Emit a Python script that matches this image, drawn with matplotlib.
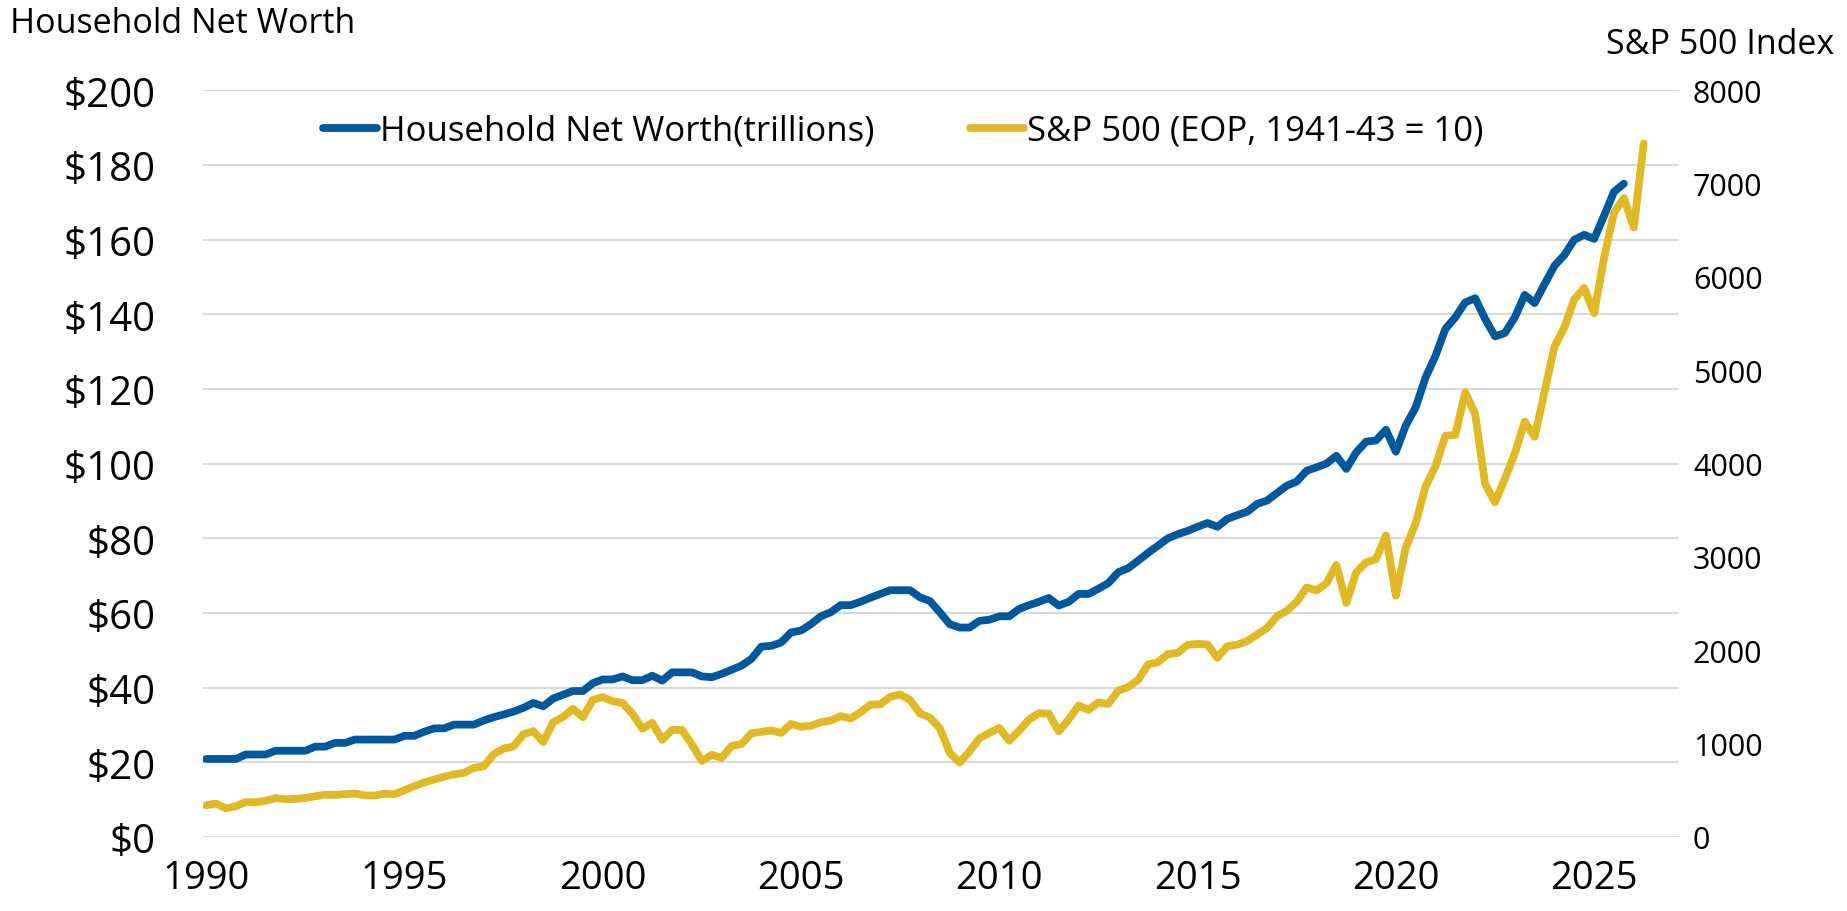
import matplotlib
matplotlib.use("Agg")
import matplotlib.pyplot as plt
import numpy as np

plt.rcParams['font.family'] = ['Open Sans', 'DejaVu Sans']

# quarterly, first point = 1990 Q1
start_year = 1990

# household net worth, trillions of dollars
net_worth = [
    20.9, 20.9, 20.9, 20.9, 22.1, 22.1, 22.1, 23.1, 23.1, 23.1,
    23.1, 24.2, 24.2, 25.2, 25.2, 26.1, 26.1, 26.1, 26.1, 26.1,
    27.1, 27.1, 28.2, 29.1, 29.1, 30.1, 30.1, 30.1, 31.2, 32.1,
    32.8, 33.6, 34.6, 35.9, 35.0, 37.1, 38.1, 39.1, 39.1, 41.2,
    42.2, 42.2, 43.0, 42.0, 42.0, 43.2, 41.9, 44.1, 44.1, 44.1,
    43.0, 42.8, 43.7, 44.8, 45.9, 47.7, 51.0, 51.2, 52.1, 54.8,
    55.3, 57.0, 59.1, 60.2, 62.1, 62.1, 63.0, 64.1, 65.1, 66.1,
    66.1, 66.1, 64.2, 63.2, 60.2, 57.0, 56.1, 56.1, 57.9, 58.2,
    59.1, 59.1, 61.1, 62.1, 63.0, 64.0, 62.0, 63.0, 65.1, 65.1,
    66.5, 68.0, 70.9, 72.0, 74.0, 76.1, 78.0, 80.0, 81.1, 82.0,
    83.1, 84.1, 83.1, 85.2, 86.2, 87.1, 89.2, 90.1, 92.1, 94.1,
    95.2, 98.1, 99.0, 100.0, 102.1, 98.6, 103.0, 105.9, 106.2, 109.1,
    103.2, 110.2, 115.1, 123.1, 128.9, 136.1, 139.2, 143.2, 144.3, 138.8,
    134.1, 135.0, 139.2, 145.2, 143.0, 148.1, 153.0, 155.9, 160.0, 161.3,
    160.2, 166.4, 172.8, 175.0,
]

# S&P 500, end of quarter
sp500 = [
    340, 358, 306, 330, 375, 371, 388, 417, 404, 408,
    418, 436, 452, 451, 459, 466, 446, 444, 463, 459,
    501, 545, 584, 616, 646, 671, 687, 741, 757, 885,
    947, 970, 1102, 1134, 1017, 1229, 1286, 1373, 1283, 1469,
    1499, 1455, 1437, 1320, 1160, 1224, 1041, 1148, 1147, 990,
    815, 880, 848, 975, 996, 1112, 1126, 1141, 1115, 1212,
    1181, 1191, 1229, 1248, 1295, 1270, 1336, 1418, 1421, 1503,
    1527, 1468, 1323, 1280, 1166, 903, 798, 919, 1057, 1115,
    1169, 1031, 1141, 1258, 1326, 1321, 1131, 1258, 1408, 1362,
    1441, 1426, 1569, 1606, 1682, 1848, 1872, 1960, 1972, 2059,
    2068, 2063, 1920, 2044, 2060, 2099, 2168, 2239, 2363, 2423,
    2519, 2674, 2641, 2718, 2914, 2507, 2834, 2942, 2977, 3231,
    2585, 3100, 3363, 3756, 3973, 4298, 4308, 4766, 4530, 3785,
    3586, 3840, 4109, 4450, 4288, 4770, 5254, 5460, 5762, 5882,
    5612, 6205, 6688, 6846, 6530, 7430,
]

blue = '#00589c'
gold = '#e1b926'

x_nw = start_year + 0.25 * np.arange(len(net_worth))
x_sp = start_year + 0.25 * np.arange(len(sp500))

W, H = 1847, 912
fig = plt.figure(figsize=(W / 100, H / 100), dpi=100)
ax = fig.add_axes([203 / W, 1 - 838 / H, (1679 - 203) / W, (838 - 91.3) / H])
ax2 = ax.twinx()

l1, = ax.plot(x_nw, net_worth, color=blue, lw=5.6, solid_joinstyle='round',
              solid_capstyle='round', label='Household Net Worth(trillions)')
l2, = ax2.plot(x_sp, sp500, color=gold, lw=5.6, solid_joinstyle='round',
               solid_capstyle='round', label='S&P 500 (EOP, 1941-43 = 10)')

ax.set_xlim(1989.92, 2027.14)
ax.set_ylim(0, 200)
ax2.set_ylim(0, 8000)
ax.set_yticks(np.arange(0, 201, 20))
ax2.set_yticks(np.arange(0, 8001, 1000))
ax.set_yticklabels(['$%d' % v for v in range(0, 201, 20)])
ax.set_xticks(np.arange(1990, 2026, 5))

ax.grid(axis='y', color='#d9d9d9', lw=1.5)
ax.set_axisbelow(True)
for a in (ax, ax2):
    for s in a.spines.values():
        s.set_visible(False)
    a.tick_params(length=0)

ax.tick_params(axis='y', labelsize=29, pad=34)
ax.tick_params(axis='x', labelsize=27.5, pad=16)
ax2.tick_params(axis='y', labelsize=22, pad=10)

fig.text(10 / W, 1 - 24 / H, 'Household Net Worth', fontsize=24.5, va='center', ha='left')
fig.text(1834 / W, 1 - 45 / H, 'S&P 500 Index', fontsize=24.5, va='center', ha='right')

fig.legend(handles=[l1, l2], loc='center left', bbox_to_anchor=(323 / W, 1 - 132 / H),
           ncol=2, frameon=False, fontsize=25, borderpad=0, borderaxespad=0,
           handlelength=1.55, handletextpad=0.1, columnspacing=2.75)

fig.savefig('out.png', dpi=100)
